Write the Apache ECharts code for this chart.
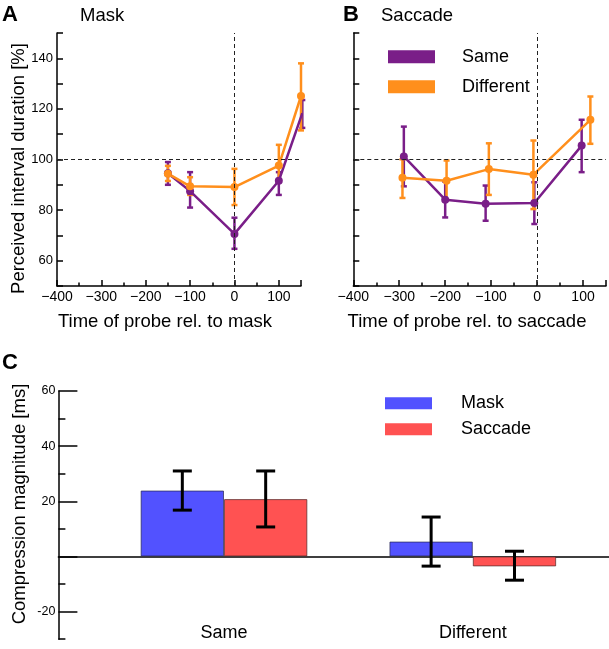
<!DOCTYPE html>
<html><head><meta charset="utf-8">
<script src="https://cdn.jsdelivr.net/npm/echarts@6/dist/echarts.min.js"></script>
<style>html,body{margin:0;padding:0;background:#fff}#c{width:609px;height:649px}</style>
</head><body><div id="c"></div>
<script>
// ---------- Panel A : Mask ----------
const maskTimeSame = [-150, -100, 0, 100, 153];
const maskSame     = [94.6, 87.5, 70.6, 91.6, 118.3];
const maskSameLo   = [90, 81, 64.7, 86, 112.5];
const maskSameHi   = [99, 95, 77, 95, 123.5];
const maskTimeDiff = [-150, -100, 0, 100, 150];
const maskDiff     = [94.4, 89.4, 89.1, 97.6, 125.1];
const maskDiffLo   = [91.5, 86, 82, 91.3, 111.5];
const maskDiffHi   = [97.5, 93, 96.3, 105.8, 138];
// ---------- Panel B : Saccade ----------
const saccTimeSame = [-290, -200, -112, -6, 97];
const saccSame     = [101.2, 84.1, 82.5, 82.8, 105.5];
const saccSameLo   = [89.4, 77.1, 75.8, 74.5, 95];
const saccSameHi   = [113, 91.3, 89.7, 91, 115.7];
const saccTimeDiff = [-293, -197, -105, -8, 116];
const saccDiff     = [92.8, 91.6, 96.2, 94, 115.7];
const saccDiffLo   = [84.8, 84, 86, 80.4, 106.2];
const saccDiffHi   = [100.1, 99.6, 106.4, 107.5, 124.9];
// ---------- Panel C : Compression ----------
const conditions  = ['Same', 'Different'];
const compMask    = [23.9, 5.4];
const compMaskLo  = [16.8, -3.5];
const compMaskHi  = [31, 14.3];
const compSacc    = [20.8, -3.6];
const compSaccLo  = [10.7, -8.6];
const compSaccHi  = [31, 1.9];
// tick labels
const lineYLabels = [60, 80, 100, 120, 140];
const compYLabels = [60, 40, 20, -20];

const FONT = '"Liberation Sans", Arial, Helvetica, sans-serif';
const PURPLE = '#7a1e88', ORANGE = '#ff8f1c', BLUE = '#5252ff', RED = '#ff5252';
const AX = {color: '#000', width: 1.5};

const chart = echarts.init(document.getElementById('c'), null, {renderer: 'canvas'});

function pts(xs, ys) { return xs.map((x, i) => [x, ys[i]]); }
function errs(xs, lo, hi) { return xs.map((x, i) => [x, lo[i], hi[i]]); }
function minus(v) { return v < 0 ? '\u2212' + (-v) : String(v); }

function errRender(color, capW, lw) {
  return function (params, api) {
    const x = api.value(0), lo = api.value(1), hi = api.value(2);
    const p1 = api.coord([x, lo]), p2 = api.coord([x, hi]);
    const style = {stroke: color, lineWidth: lw};
    return {type: 'group', children: [
      {type: 'line', shape: {x1: p1[0], y1: p1[1], x2: p2[0], y2: p2[1]}, style},
      {type: 'line', shape: {x1: p1[0] - capW, y1: p1[1], x2: p1[0] + capW, y2: p1[1]}, style},
      {type: 'line', shape: {x1: p2[0] - capW, y1: p2[1], x2: p2[0] + capW, y2: p2[1]}, style}
    ]};
  };
}
function barErrRender(side) {
  return function (params, api) {
    const c = api.value(0), lo = api.value(1), hi = api.value(2);
    const band = api.size([1, 0])[0];
    const bw = band * 0.67 / 2;
    const p1 = api.coord([c, lo]), p2 = api.coord([c, hi]);
    const x = p1[0] + side * bw / 2;
    const capW = 9.5;
    const style = {stroke: '#000', lineWidth: 3};
    return {type: 'group', children: [
      {type: 'line', shape: {x1: x, y1: p1[1], x2: x, y2: p2[1]}, style},
      {type: 'line', shape: {x1: x - capW, y1: p1[1], x2: x + capW, y2: p1[1]}, style},
      {type: 'line', shape: {x1: x - capW, y1: p2[1], x2: x + capW, y2: p2[1]}, style}
    ]};
  };
}

function tickAxis(grid) {
  return {gridIndex: grid, type: 'value', position: 'bottom', min: -400, max: 150, interval: 50,
    axisLine: {onZero: false, lineStyle: AX}, axisTick: {inside: true, length: 3.5, lineStyle: AX},
    axisLabel: {show: false}, splitLine: {show: false}};
}
function labelAxis(grid) {
  return {gridIndex: grid, type: 'value', position: 'bottom', min: -400, max: 150, interval: 100,
    axisLine: {show: false, onZero: false}, axisTick: {inside: true, length: 6, lineStyle: AX},
    axisLabel: {color: '#000', fontSize: 14, fontFamily: FONT, margin: 4,
      formatter: v => (v === 150 ? '' : minus(v))},
    splitLine: {show: false}};
}
function lineYAxis(grid, labels) {
  return {gridIndex: grid, type: 'value', min: 50, max: 150, interval: 10,
    axisLine: {onZero: false, lineStyle: AX}, axisTick: {inside: true, length: 6, lineStyle: AX},
    axisLabel: {show: labels, color: '#000', fontSize: 13, fontFamily: FONT, margin: 4,
      formatter: v => (lineYLabels.includes(v) ? String(v) : '')},
    splitLine: {show: false}};
}
const dashed = {silent: true, symbol: 'none', label: {show: false},
  lineStyle: {color: '#222', type: [4, 3], width: 1}, emphasis: {disabled: true},
  data: [{yAxis: 100}, {xAxis: 0}]};

function lineSeries(name, color, xi, yi, data, ml) {
  const s = {name, type: 'line', xAxisIndex: xi, yAxisIndex: yi, data,
    symbol: 'circle', symbolSize: 8, color,
    lineStyle: {color, width: 2.5}, itemStyle: {color}, z: 3};
  if (ml) s.markLine = dashed;
  return s;
}
function errSeries(name, color, xi, yi, data) {
  return {name, type: 'custom', xAxisIndex: xi, yAxisIndex: yi, data, color,
    itemStyle: {color}, encode: {x: 0, y: [1, 2]}, renderItem: errRender(color, 3, 2.5), z: 3};
}

const option = {
  backgroundColor: '#fff',
  animation: false,
  textStyle: {fontFamily: FONT},
  grid: [
    {left: 57, top: 33, width: 244, height: 253},
    {left: 353.3, top: 33, width: 253, height: 253},
    {left: 58.4, top: 391, width: 550.6, height: 248.2},
    {left: 58.4, top: 391, width: 550.6, height: 220.6},
    {left: 99.6, top: 391, width: 497.6, height: 248.2}
  ],
  xAxis: [
    tickAxis(0), labelAxis(0), tickAxis(1), labelAxis(1),
    {gridIndex: 2, type: 'value', min: 0, max: 1, axisLine: {onZero: true, lineStyle: AX},
      axisTick: {show: false}, axisLabel: {show: false}, splitLine: {show: false}},
    {gridIndex: 3, type: 'value', min: 0, max: 1, show: false},
    {gridIndex: 4, type: 'category', data: conditions, position: 'bottom',
      axisLine: {show: false, onZero: false}, axisTick: {show: false},
      axisLabel: {color: '#000', fontSize: 18, fontFamily: FONT, margin: -6, verticalAlign: 'middle'}}
  ],
  yAxis: [
    lineYAxis(0, true), lineYAxis(1, false),
    {gridIndex: 2, type: 'value', min: -30, max: 60, interval: 10,
      axisLine: {onZero: false, lineStyle: AX}, axisTick: {inside: true, length: 7, lineStyle: AX},
      axisLabel: {show: false}, splitLine: {show: false}},
    {gridIndex: 3, type: 'value', min: -20, max: 60, interval: 20,
      axisLine: {show: false, onZero: false}, axisTick: {inside: true, length: 19, lineStyle: AX},
      axisLabel: {color: '#000', fontSize: 12.5, fontFamily: '"Liberation Sans Narrow", ' + FONT, margin: 3,
        formatter: v => (compYLabels.includes(v) ? (v < 0 ? '-' + (-v) : String(v)) : '')},
      splitLine: {show: false}},
    {gridIndex: 4, type: 'value', min: -30, max: 60, show: false}
  ],
  legend: [
    {data: ['Same', 'Different'], orient: 'vertical', left: 388, top: 47.7, padding: 0,
      icon: 'rect', itemWidth: 47, itemHeight: 13, itemGap: 12, selectedMode: false,
      textStyle: {fontSize: 18, color: '#000', fontFamily: FONT, lineHeight: 13, padding: [0, 0, 0, 22]}},
    {data: ['Mask', 'Saccade'], orient: 'vertical', left: 385, top: 394.3, padding: 0,
      icon: 'rect', itemWidth: 47, itemHeight: 12, itemGap: 8, selectedMode: false,
      itemStyle: {borderWidth: 0},
      textStyle: {fontSize: 18, color: '#000', fontFamily: FONT, lineHeight: 12, padding: [0, 0, 0, 24]}}
  ],
  series: [
    // Panel A
    lineSeries('Same', PURPLE, 1, 0, pts(maskTimeSame, maskSame), true),
    errSeries('Same', PURPLE, 1, 0, errs(maskTimeSame, maskSameLo, maskSameHi)),
    lineSeries('Different', ORANGE, 1, 0, pts(maskTimeDiff, maskDiff), false),
    errSeries('Different', ORANGE, 1, 0, errs(maskTimeDiff, maskDiffLo, maskDiffHi)),
    // Panel B
    lineSeries('Same', PURPLE, 3, 1, pts(saccTimeSame, saccSame), true),
    errSeries('Same', PURPLE, 3, 1, errs(saccTimeSame, saccSameLo, saccSameHi)),
    lineSeries('Different', ORANGE, 3, 1, pts(saccTimeDiff, saccDiff), false),
    errSeries('Different', ORANGE, 3, 1, errs(saccTimeDiff, saccDiffLo, saccDiffHi)),
    // Panel C
    {name: 'Mask', type: 'bar', xAxisIndex: 6, yAxisIndex: 4, data: compMask,
      barGap: '0%', barCategoryGap: '33%', color: BLUE,
      itemStyle: {color: BLUE, borderColor: 'rgba(40,40,80,0.7)', borderWidth: 1}},
    {name: 'Saccade', type: 'bar', xAxisIndex: 6, yAxisIndex: 4, data: compSacc,
      barGap: '0%', barCategoryGap: '33%', color: RED,
      itemStyle: {color: RED, borderColor: 'rgba(80,40,40,0.7)', borderWidth: 1}},
    {type: 'custom', xAxisIndex: 6, yAxisIndex: 4, z: 5,
      data: conditions.map((c, i) => [i, compMaskLo[i], compMaskHi[i]]),
      encode: {x: 0, y: [1, 2]}, renderItem: barErrRender(-1)},
    {type: 'custom', xAxisIndex: 6, yAxisIndex: 4, z: 5,
      data: conditions.map((c, i) => [i, compSaccLo[i], compSaccHi[i]]),
      encode: {x: 0, y: [1, 2]}, renderItem: barErrRender(1)}
  ],
  graphic: [
    {type: 'text', x: 2, y: 14.5, style: {text: 'A', font: 'bold 22px ' + FONT, fill: '#000', textAlign: 'left', textVerticalAlign: 'middle'}},
    {type: 'text', x: 80, y: 16, style: {text: 'Mask', font: '18.5px ' + FONT, fill: '#000', textAlign: 'left', textVerticalAlign: 'middle'}},
    {type: 'text', x: 343, y: 14.5, style: {text: 'B', font: 'bold 22px ' + FONT, fill: '#000', textAlign: 'left', textVerticalAlign: 'middle'}},
    {type: 'text', x: 381, y: 16, style: {text: 'Saccade', font: '18.5px ' + FONT, fill: '#000', textAlign: 'left', textVerticalAlign: 'middle'}},
    {type: 'text', x: 2, y: 363, style: {text: 'C', font: 'bold 22px ' + FONT, fill: '#000', textAlign: 'left', textVerticalAlign: 'middle'}},
    {type: 'text', x: 19, y: 168.5, rotation: Math.PI / 2, style: {text: 'Perceived interval duration [%]', font: '18.5px ' + FONT, fill: '#000', textAlign: 'center', textVerticalAlign: 'middle'}},
    {type: 'text', x: 165, y: 321.5, style: {text: 'Time of probe rel. to mask', font: '18.5px ' + FONT, fill: '#000', textAlign: 'center', textVerticalAlign: 'middle'}},
    {type: 'text', x: 467, y: 321.5, style: {text: 'Time of probe rel. to saccade', font: '18.5px ' + FONT, fill: '#000', textAlign: 'center', textVerticalAlign: 'middle'}},
    {type: 'text', x: 19.5, y: 504, rotation: Math.PI / 2, style: {text: 'Compression magnitude [ms]', font: '18.5px ' + FONT, fill: '#000', textAlign: 'center', textVerticalAlign: 'middle'}}
  ]
};
chart.setOption(option);
</script></body></html>
